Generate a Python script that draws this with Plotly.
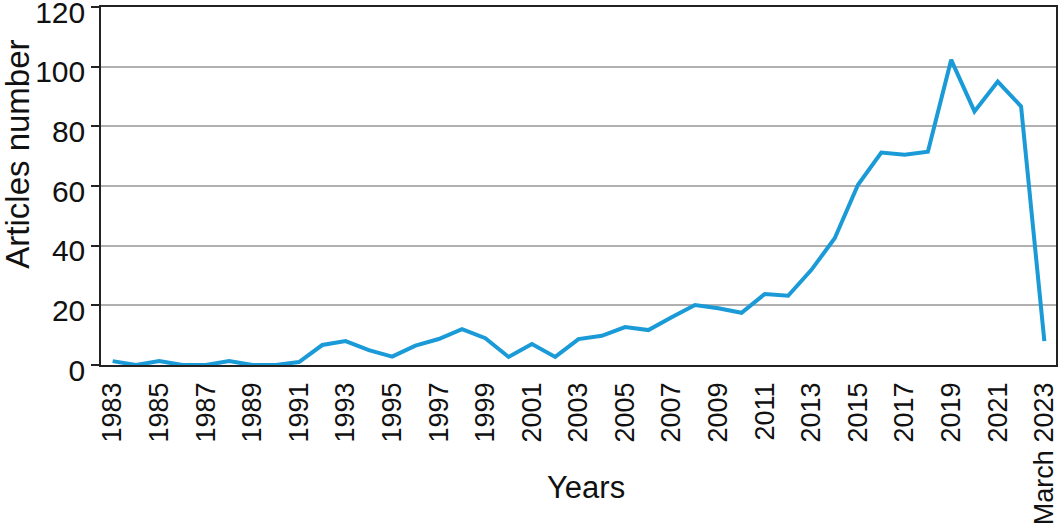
import plotly.graph_objects as go

categories = [str(y) for y in range(1983, 2023)] + ["March 2023"]
articles = [1.3, 0, 1.3, 0, 0, 1.3, 0, 0, 1, 6.7,
            8, 5, 2.8, 6.5, 8.7, 12, 9, 2.7, 7, 2.7,
            8.7, 9.8, 12.7, 11.7, 16, 20.1, 19, 17.5, 23.8, 23.2,
            31.9, 42.5, 60.4, 71.2, 70.5, 71.5, 102.3, 85, 95, 86.7,
            8]
tick_labels = categories[::2]
y_ticks = [0, 20, 40, 60, 80, 100, 120]

font_family = "Liberation Sans, Arial, sans-serif"

fig = go.Figure()
fig.add_trace(go.Scatter(
    x=categories, y=articles, mode="lines",
    line=dict(color="#1a9ad6", width=4),
    hoverinfo="x+y",
))

fig.update_layout(
    width=1059, height=525,
    margin=dict(l=101, r=3, t=7, b=160),
    paper_bgcolor="white", plot_bgcolor="white",
    font=dict(family=font_family, size=30, color="#111"),
    showlegend=False,
    xaxis=dict(
        type="category",
        categoryorder="array", categoryarray=categories,
        range=[-0.5, len(categories) - 0.5],
        tickmode="array", tickvals=tick_labels, ticktext=tick_labels,
        tickangle=-90,
        ticks="", showgrid=False,
        showline=True, linecolor="#222", linewidth=1.5, mirror=True,
        tickfont=dict(family=font_family, size=27),
        ticklabelstandoff=5,
        automargin=False,
    ),
    yaxis=dict(
        range=[0, 120],
        tickvals=y_ticks,
        ticks="outside", ticklen=8, tickcolor="#222", tickwidth=1.5,
        showgrid=True, gridcolor="#b0b0b0", gridwidth=1.5,
        showline=True, linecolor="#222", linewidth=1.5, mirror=True,
        zeroline=False,
        tickfont=dict(family=font_family, size=30),
        ticklabeloverflow="allow",
        ticklabelshift=5,
        automargin=False,
    ),
    annotations=[
        dict(text="Years", xref="paper", yref="paper", x=0.508, y=-0.341,
             showarrow=False, xanchor="center", yanchor="middle",
             font=dict(family=font_family, size=31)),
        dict(text="Articles number", xref="paper", yref="paper", x=-0.087, y=0.59,
             showarrow=False, xanchor="center", yanchor="middle", textangle=-90,
             font=dict(family=font_family, size=33)),
    ],
)

fig.write_html(
    "out.html",
    config={"displayModeBar": False},
    post_script="document.body.style.margin='0';document.body.style.overflow='hidden';",
)
